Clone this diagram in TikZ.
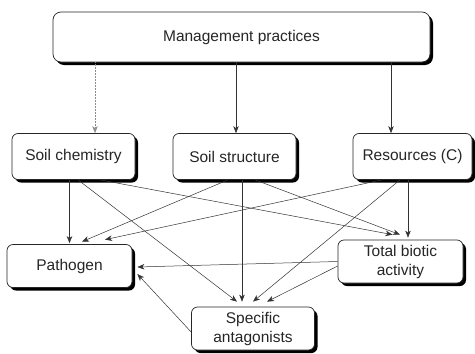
\documentclass[tikz,border=0pt]{standalone}
\usepackage{fontspec}
\setmainfont{Liberation Sans}
\usepackage{tikz}
\usetikzlibrary{shadows, arrows.meta, positioning}

\begin{document}
\begin{tikzpicture}[x=1pt, y=-1pt,
        box/.style={draw=black!85, fill=white, rounded corners=6pt,
                    line width=0.7pt,
                    drop shadow={shadow xshift=3pt, shadow yshift=-3pt,
                                 fill=black, opacity=1},
                    minimum width=123pt, minimum height=46pt, inner sep=2pt,
                    font=\fontsize{15.5}{19}\selectfont, align=center,
                    text=black!85},
        lowbox/.style={box, minimum height=43pt},
        arr/.style={-{Stealth[length=7pt, width=5.5pt, inset=2pt]},
                    black!80, line width=0.5pt}
      ]
        \useasboundingbox (0,0) rectangle (475,354);

        \node[box, minimum width=377pt, minimum height=50pt,
              rounded corners=8pt] (mp) at (241.5,37) {Management practices};
        \node[box] (sc) at (73.5,156.5) {Soil chemistry};
        \node[box] (ss) at (234.5,156.5) {Soil structure};
        \node[box, minimum width=119pt] (rc) at (412.5,156.5) {Resources (C)};
        \node[lowbox, minimum width=125pt] (pa) at (69.5,266) {Pathogen};
        \node[lowbox, minimum width=125pt] (tb) at (400.5,261.5) {Total biotic\\activity};
        \node[lowbox] (sa) at (253,328.5) {Specific\\antagonists};

        \draw[arr, densely dotted, black!45] ([xshift=21.5pt]sc.north |- mp.south) -- ([xshift=21.5pt]sc.north);
        \draw[arr] ([xshift=1.5pt]ss.north |- mp.south) -- ([xshift=1.5pt]ss.north);
        \draw[arr] ([xshift=-21.5pt]rc.north |- mp.south) -- ([xshift=-21.5pt]rc.north);

        \draw[arr] (pa.north |- sc.south) -- ([yshift=1pt]pa.north);
        \draw[arr] ([xshift=4.5pt]sc.south) -- ([xshift=-16pt, yshift=5pt]sa.north);
        \draw[arr] ([xshift=26.5pt]sc.south) -- ([xshift=-8pt, yshift=5pt]tb.north);

        \draw[arr] ([xshift=-6.5pt]ss.south) -- ([xshift=12.5pt, yshift=2.5pt]pa.north);
        \draw[arr] ([xshift=7.5pt]ss.south) -- ([xshift=-11pt, yshift=5pt]sa.north);
        \draw[arr] ([xshift=20.5pt]ss.south) -- ([xshift=-0.5pt, yshift=5pt]tb.north);

        \draw[arr] ([xshift=-30.5pt]rc.south) -- ([xshift=35.5pt, yshift=4.5pt]pa.north);
        \draw[arr] ([xshift=-12.5pt]rc.south) -- ([xshift=0pt, yshift=5pt]sa.north);
        \draw[arr] ([xshift=-4.5pt]rc.south) -- ([xshift=7.5pt, yshift=2pt]tb.north);

        \draw[arr] (tb.west) -- ([xshift=5pt, yshift=-1pt]pa.east);
        \draw[arr] ([yshift=-4.5pt]tb.west) -- ([xshift=14pt, yshift=5pt]sa.north);
        \draw[arr] ([yshift=-3.5pt]sa.west) -- ([xshift=5pt, yshift=-8pt]pa.east);
      \end{tikzpicture}
\end{document}
